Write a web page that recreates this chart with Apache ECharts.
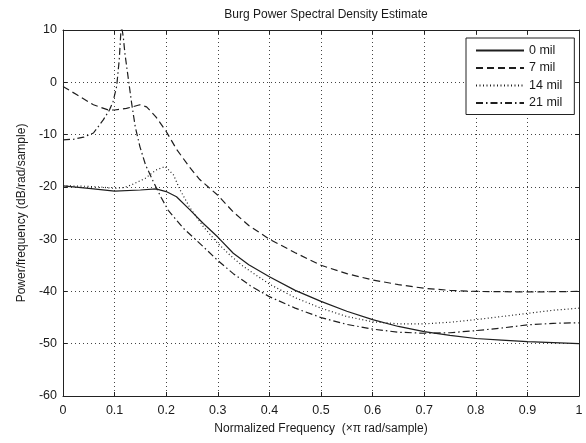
<!DOCTYPE html>
<html>
<head>
<meta charset="utf-8">
<script src="https://cdn.jsdelivr.net/npm/echarts@6/dist/echarts.min.js"></script>
<style>
html,body{margin:0;padding:0;background:#fff;}
#chart{width:586px;height:443px;}
</style>
</head>
<body>
<div id="chart"></div>
<script>
// ---- data ----
var titleText = "Burg Power Spectral Density Estimate";
var xAxisName = "Normalized Frequency  (\u00d7\u03c0 rad/sample)";
var yAxisName = "Power/frequency (dB/rad/sample)";
var xTickLabels = ["0","0.1","0.2","0.3","0.4","0.5","0.6","0.7","0.8","0.9","1"];
var yTickLabels = ["-60","-50","-40","-30","-20","-10","0","10"];
var seriesNames = ["0 mil","7 mil","14 mil","21 mil"];

var freq0 = [0,0.05,0.1,0.15,0.18,0.2,0.22,0.246,0.272,0.3,0.33,0.36,0.4,0.45,0.5,0.55,0.6,0.65,0.7,0.75,0.8,0.85,0.9,0.95,1.0];
var mil0  = [-19.8,-20.3,-20.8,-20.6,-20.4,-20.9,-21.9,-24.4,-27.0,-29.6,-32.7,-34.9,-37.2,-39.8,-41.9,-43.8,-45.4,-46.7,-47.7,-48.4,-49.0,-49.3,-49.6,-49.8,-50.0];

var freq7 = [0,0.027,0.059,0.088,0.1,0.123,0.149,0.162,0.18,0.2,0.22,0.245,0.265,0.3,0.33,0.36,0.4,0.45,0.5,0.55,0.6,0.65,0.7,0.75,0.8,0.9,1.0];
var mil7  = [-0.8,-2.4,-4.3,-5.3,-5.3,-5.0,-4.3,-4.7,-6.6,-9.4,-12.8,-16.2,-18.6,-21.6,-24.8,-27.4,-30.0,-32.6,-35.0,-36.6,-37.8,-38.7,-39.4,-39.8,-40.0,-40.1,-40.0];

var freq14 = [0,0.05,0.08,0.1,0.12,0.133,0.159,0.18,0.198,0.214,0.227,0.246,0.272,0.298,0.324,0.349,0.4,0.45,0.5,0.55,0.6,0.65,0.7,0.75,0.8,0.85,0.9,0.95,1.0];
var mil14  = [-19.8,-19.9,-20.1,-20.3,-20.1,-19.6,-18.4,-16.8,-16.1,-17.7,-20.6,-24.0,-27.6,-30.6,-33.1,-35.2,-38.6,-41.2,-43.2,-44.8,-45.8,-46.2,-46.2,-45.9,-45.4,-44.8,-44.2,-43.6,-43.2];

var freq21 = [0,0.02,0.04,0.059,0.078,0.09,0.097,0.104,0.109,0.112,0.114,0.117,0.12,0.127,0.133,0.14,0.149,0.16,0.175,0.19,0.204,0.233,0.266,0.298,0.33,0.363,0.4,0.45,0.5,0.55,0.6,0.65,0.7,0.75,0.8,0.85,0.9,0.95,1.0];
var mil21  = [-11.0,-10.9,-10.5,-9.7,-7.2,-5.3,-3.7,-0.8,4.3,9.4,10.5,8.5,5.5,0.4,-4.0,-8.5,-12.3,-15.8,-19.0,-22.0,-24.5,-27.9,-30.9,-33.9,-36.6,-38.9,-41.0,-43.2,-45.0,-46.3,-47.2,-47.8,-48.0,-47.9,-47.5,-47.0,-46.4,-46.1,-46.0];

function pairs(xs, ys){ return xs.map(function(x,i){ return [x, ys[i]]; }); }

var FONT = "'Liberation Sans', Arial, sans-serif";
var TXT = "#1a1a1a";
var LINE = "#1e1e1e";
var chart = echarts.init(document.getElementById('chart'), null, {renderer:'canvas'});

function lineSeries(name, data, dash){
  return {
    name: name, type: 'line', data: data, symbol: 'none', smooth: false,
    animation: false, clip: true,
    itemStyle: { color: LINE },
    lineStyle: { color: LINE, width: 1.2, type: dash }
  };
}

var xCommon = { type:'value', min:0, max:1, interval:0.1 };
var yCommon = { type:'value', min:-60, max:10, interval:10 };

chart.setOption({
  animation: false,
  backgroundColor: '#ffffff',
  title: {
    text: titleText, left: 321, top: 4, textAlign: 'center',
    textStyle: { fontFamily: FONT, fontSize: 12, fontWeight: 'normal', color: TXT }
  },
  legend: {
    orient: 'vertical', left: 466, top: 38,
    data: seriesNames,
    backgroundColor: '#fff',
    borderColor: '#222', borderWidth: 1,
    padding: [6, 12, 5, 9],
    itemWidth: 48, itemHeight: 14, itemGap: 4.5,
    itemStyle: { opacity: 0, borderWidth: 0 },
    textStyle: { fontFamily: FONT, fontSize: 12.5, color: TXT }
  },
  grid: { left: 63, right: 7, top: 30, bottom: 47, containLabel: false },
  xAxis: [
    Object.assign({}, xCommon, {
      position: 'bottom',
      name: xAxisName, nameLocation: 'middle', nameGap: 27,
      nameTextStyle: { fontFamily: FONT, fontSize: 12, color: TXT },
      axisLine: { show: true, onZero: false, lineStyle: { color: '#222', width: 1 } },
      axisTick: { show: true, inside: true, length: 4, lineStyle: { color: '#222' } },
      axisLabel: { show: true, margin: 8, fontFamily: FONT, fontSize: 12.5, color: TXT,
        formatter: function(v){ return xTickLabels[Math.round(v*10)]; } },
      splitLine: { show: true, lineStyle: { color: '#444', width: 1, type: [1, 3] } }
    }),
    Object.assign({}, xCommon, {
      position: 'top',
      axisLine: { show: true, onZero: false, lineStyle: { color: '#222', width: 1 } },
      axisTick: { show: true, inside: true, length: 4, lineStyle: { color: '#222' } },
      axisLabel: { show: false },
      splitLine: { show: false }
    })
  ],
  yAxis: [
    Object.assign({}, yCommon, {
      position: 'left',
      name: yAxisName, nameLocation: 'middle', nameGap: 33, nameRotate: 90,
      nameTextStyle: { fontFamily: FONT, fontSize: 12, color: TXT },
      axisLine: { show: true, onZero: false, lineStyle: { color: '#222', width: 1 } },
      axisTick: { show: true, inside: true, length: 4, lineStyle: { color: '#222' } },
      axisLabel: { show: true, margin: 6, fontFamily: FONT, fontSize: 12.5, color: TXT,
        formatter: function(v){ return yTickLabels[Math.round((v + 60)/10)]; } },
      splitLine: { show: true, lineStyle: { color: '#444', width: 1, type: [1, 3] } }
    }),
    Object.assign({}, yCommon, {
      position: 'right',
      axisLine: { show: true, onZero: false, lineStyle: { color: '#222', width: 1 } },
      axisTick: { show: true, inside: true, length: 4, lineStyle: { color: '#222' } },
      axisLabel: { show: false },
      splitLine: { show: false }
    })
  ],
  series: [
    lineSeries(seriesNames[0], pairs(freq0, mil0), 'solid'),
    lineSeries(seriesNames[1], pairs(freq7, mil7), [7, 4]),
    lineSeries(seriesNames[2], pairs(freq14, mil14), [1, 2.5]),
    lineSeries(seriesNames[3], pairs(freq21, mil21), [7, 3, 1.5, 3])
  ]
});
</script>
</body>
</html>
